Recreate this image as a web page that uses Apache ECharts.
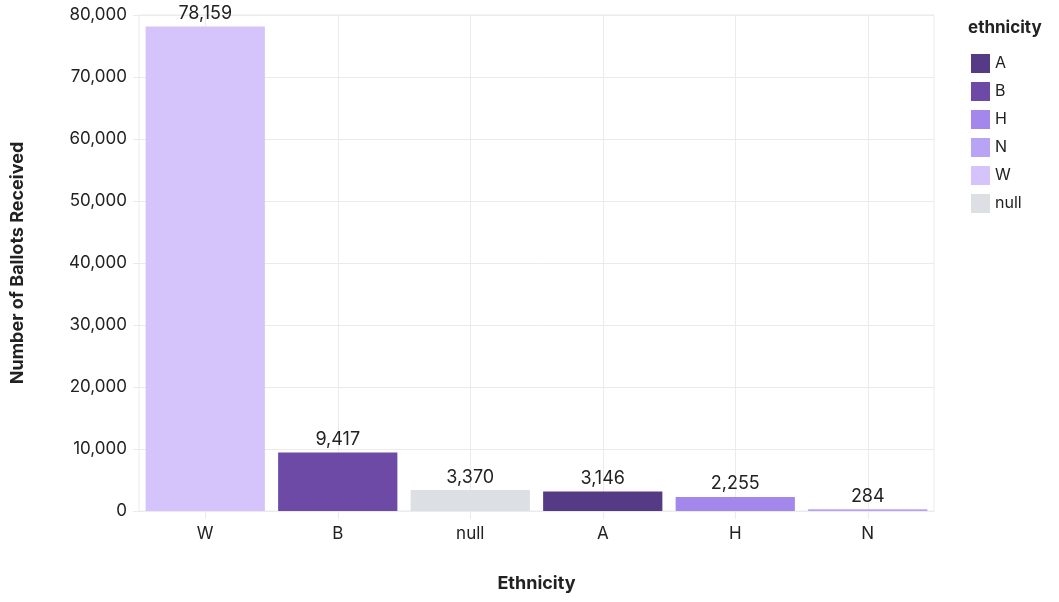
<!DOCTYPE html>
<html>
<head>
<meta charset="utf-8">
<script src="https://cdn.jsdelivr.net/npm/echarts@6/dist/echarts.min.js"></script>
<style>
html,body{margin:0;padding:0;background:#fff;}
#chart{width:1059px;height:602px;}
</style>
</head>
<body>
<div id="chart"></div>
<script>
const categories = ['W', 'B', 'null', 'A', 'H', 'N'];
const values = [78159, 9417, 3370, 3146, 2255, 284];
const legendOrder = ['A', 'B', 'H', 'N', 'W', 'null'];
const colors = { A: '#553b85', B: '#6c4aa6', H: '#a487ea', N: '#b9a3f5', W: '#d5c4fb', null: '#dcdfe3' };
const yTicks = { min: 0, max: 80000, interval: 10000 };

const FONT = 'Inter, "Noto Sans", sans-serif';
const GRID = '#ebebeb';

const chart = echarts.init(document.getElementById('chart'), null, { renderer: 'canvas' });

const barSeries = categories.map((c, i) => ({
  name: c,
  type: 'bar',
  stack: 'all',
  barCategoryGap: '10%',
  z: 3,
  itemStyle: { color: colors[c] },
  label: {
    show: true,
    position: 'top',
    distance: 4,
    fontFamily: FONT,
    fontSize: 18,
    color: '#222',
    formatter: p => p.value.toLocaleString('en-US')
  },
  data: categories.map((d, j) => (j === i ? values[i] : '-'))
}));

const helper = {
  name: '__grid',
  type: 'line',
  data: [],
  z: 1,
  silent: true,
  markLine: {
    silent: true,
    z: 1,
    symbol: 'none',
    animation: false,
    label: { show: false },
    lineStyle: { color: GRID, type: 'solid', width: 1 },
    data: categories.map(c => ({ xAxis: c }))
  }
};

chart.setOption({
  animation: false,
  backgroundColor: '#fff',
  title: {
    text: 'ethnicity',
    left: 963,
    top: 14,
    textStyle: { fontFamily: FONT, fontSize: 17, fontWeight: 'bold', color: '#222' }
  },
  legend: {
    data: legendOrder,
    orient: 'vertical',
    left: 966,
    top: 49,
    icon: 'rect',
    itemWidth: 19,
    itemHeight: 19,
    itemGap: 9,
    textStyle: { fontFamily: FONT, fontSize: 16, color: '#222' }
  },
  grid: {
    left: 139, right: 125, top: 15, bottom: 91,
    show: true, borderColor: GRID, borderWidth: 1
  },
  xAxis: {
    type: 'category',
    data: categories,
    name: 'Ethnicity',
    nameLocation: 'middle',
    nameGap: 64,
    nameTextStyle: { fontFamily: FONT, fontSize: 18, fontWeight: 'bold', color: '#222' },
    axisLine: { lineStyle: { color: GRID } },
    axisTick: { show: true, alignWithLabel: true, length: 8, lineStyle: { color: GRID } },
    axisLabel: { fontFamily: FONT, fontSize: 17, color: '#222', margin: 14 },
    splitLine: { show: false }
  },
  yAxis: {
    type: 'value',
    min: yTicks.min,
    max: yTicks.max,
    interval: yTicks.interval,
    name: 'Number of Ballots Received',
    nameLocation: 'middle',
    nameGap: 112,
    nameTextStyle: { fontFamily: FONT, fontSize: 18, fontWeight: 'bold', color: '#222' },
    axisLine: { show: false },
    axisTick: { show: true, length: 6, lineStyle: { color: GRID } },
    axisLabel: {
      fontFamily: FONT, fontSize: 17, color: '#222', margin: 12,
      formatter: v => v.toLocaleString('en-US')
    },
    splitLine: { show: true, lineStyle: { color: GRID } }
  },
  series: [helper, ...barSeries]
});
</script>
</body>
</html>
